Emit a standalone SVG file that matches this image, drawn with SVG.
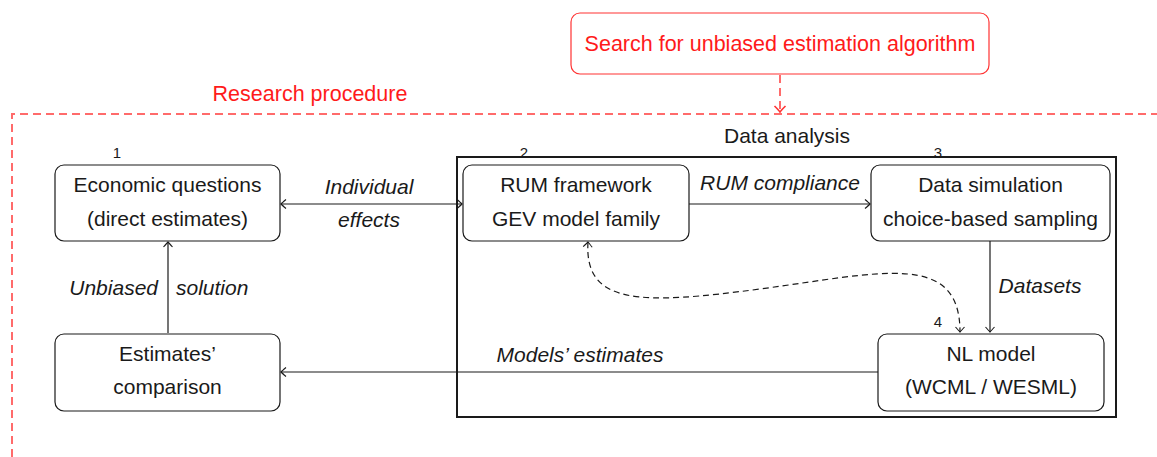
<svg xmlns="http://www.w3.org/2000/svg" width="1157" height="457" viewBox="0 0 1157 457">
<style>
.t{font-family:"Liberation Sans",Arial,sans-serif;font-size:21px;fill:#1a1a1a;text-anchor:middle}
.i{font-style:italic}
.n{font-family:"Liberation Sans",Arial,sans-serif;font-size:15px;fill:#1a1a1a;text-anchor:middle}
.box{fill:#fff;stroke:#1a1a1a;stroke-width:1.2}
.red{font-family:"Liberation Sans",Arial,sans-serif;font-size:21.5px;fill:#ff1a1a;text-anchor:middle}
.edge{fill:none;stroke:#1a1a1a;stroke-width:1.2}
.dash{fill:none;stroke:#1a1a1a;stroke-width:1.2;stroke-dasharray:6 4}
.rdash{fill:none;stroke:#ff6b6b;stroke-width:2;stroke-dasharray:8 5}
</style>
<defs>
<marker id="ah" markerWidth="12" markerHeight="12" refX="0" refY="0" viewBox="-7 -6 8 12" orient="auto-start-reverse" markerUnits="userSpaceOnUse">
<path d="M-5,-4.5 Q-1,-1 0,0 Q-1,1 -5,4.5" fill="none" stroke="#1a1a1a" stroke-width="1.1"/>
</marker>
<marker id="ahr" markerWidth="14" markerHeight="14" refX="0" refY="0" viewBox="-8 -7 9 14" orient="auto" markerUnits="userSpaceOnUse">
<path d="M-6,-5.5 Q-1.5,-1 0,0 Q-1.5,1 -6,5.5" fill="none" stroke="#ff3333" stroke-width="1.6"/>
</marker>
</defs>

<g id="research-frame">
<path class="rdash" d="M12,457 L12,114 L1157,114"/>
<text class="red" x="310" y="101">Research procedure</text>
</g>

<g id="search">
<rect x="571" y="13" width="418" height="61" rx="9" fill="#fff" stroke="#ff3333" stroke-width="1.2"/>
<text class="red" x="780" y="51">Search for unbiased estimation algorithm</text>
</g>

<g id="data-analysis">
<rect x="457" y="157" width="659" height="260" fill="none" stroke="#1a1a1a" stroke-width="2"/>
<text class="t" x="787" y="143">Data analysis</text>
</g>

<g id="connectors">
<path class="rdash" d="M780,75 L780,112" marker-end="url(#ahr)"/>
<path class="edge" d="M281,204 L462,204" marker-start="url(#ah)" marker-end="url(#ah)"/>
<path class="edge" d="M689,204 L870,204" marker-end="url(#ah)"/>
<path class="edge" d="M990,241 L990,332" marker-end="url(#ah)"/>
<path class="edge" d="M878,372 L281,372" marker-end="url(#ah)"/>
<path class="edge" d="M168,333 L168,242" marker-end="url(#ah)"/>
<path class="dash" d="M588,242 C584,305 640,305 760,289 S960,250 960,332" marker-start="url(#ah)" marker-end="url(#ah)"/>
<text class="t i" x="369" y="194">Individual</text>
<text class="t i" x="369" y="227">effects</text>
<text class="t i" x="780" y="190">RUM compliance</text>
<text class="t i" x="1040" y="293">Datasets</text>
<text class="t i" x="580" y="362">Models’ estimates</text>
<text class="t i" x="158" y="295" style="text-anchor:end">Unbiased</text>
<text class="t i" x="176" y="295" style="text-anchor:start">solution</text>
</g>

<g id="node1">
<rect class="box" x="55" y="165" width="225" height="76" rx="9"/>
<text class="t" x="167.5" y="192">Economic questions</text>
<text class="t" x="167.5" y="226">(direct estimates)</text>
<text class="n" x="117" y="158">1</text>
</g>

<g id="node2">
<rect class="box" x="463" y="165" width="226" height="76" rx="9"/>
<text class="t" x="576" y="192">RUM framework</text>
<text class="t" x="576" y="226">GEV model family</text>
<text class="n" x="524" y="158">2</text>
</g>

<g id="node3">
<rect class="box" x="871" y="165" width="239" height="76" rx="9"/>
<text class="t" x="990.5" y="192">Data simulation</text>
<text class="t" x="990.5" y="226">choice-based sampling</text>
<text class="n" x="938" y="158">3</text>
</g>

<g id="node4">
<rect class="box" x="878" y="334" width="226" height="77" rx="9"/>
<text class="t" x="991" y="361">NL model</text>
<text class="t" x="991" y="394">(WCML / WESML)</text>
<text class="n" x="938" y="327">4</text>
</g>

<g id="node5">
<rect class="box" x="55" y="334" width="225" height="77" rx="9"/>
<text class="t" x="167.5" y="361">Estimates’</text>
<text class="t" x="167.5" y="394">comparison</text>
</g>
</svg>
